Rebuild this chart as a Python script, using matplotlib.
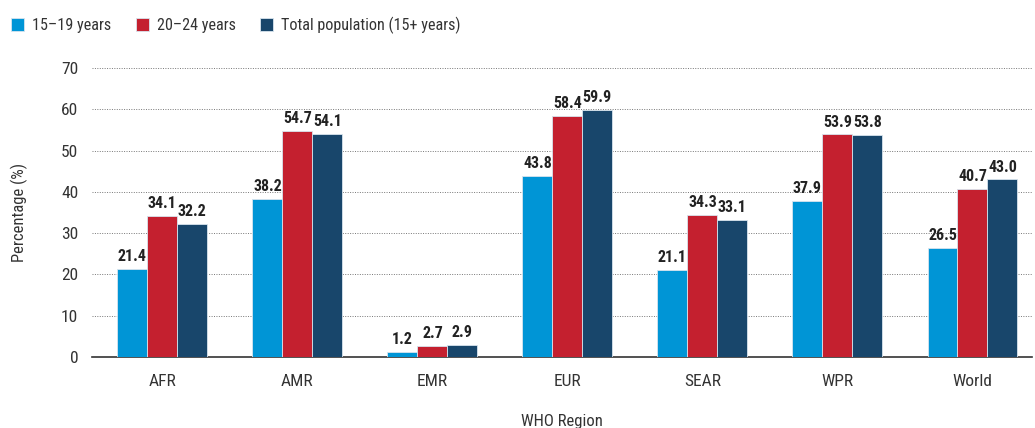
import numpy as np
import matplotlib
matplotlib.use('Agg')
import matplotlib.pyplot as plt

plt.rcParams['font.family'] = ['Roboto Condensed', 'Barlow Condensed', 'DejaVu Sans']
plt.rcParams['font.stretch'] = 'condensed'

# Data
regions = ['AFR', 'AMR', 'EMR', 'EUR', 'SEAR', 'WPR', 'World']
age_15_19 = [21.4, 38.2, 1.2, 43.8, 21.1, 37.9, 26.5]
age_20_24 = [34.1, 54.7, 2.7, 58.4, 34.3, 53.9, 40.7]
total_15plus = [32.2, 54.1, 2.9, 59.9, 33.1, 53.8, 43.0]

series = [
    ('15\u201319 years', age_15_19, '#0095D6'),
    ('20\u201324 years', age_20_24, '#C4202F'),
    ('Total population (15+ years)', total_15plus, '#18466B'),
]

fig = plt.figure(figsize=(10.35, 4.28), dpi=100)
ax = fig.add_axes([0.089, 0.166, 0.908, 0.675])

x = np.arange(len(regions))
width = 0.222
for i, (label, vals, color) in enumerate(series):
    pos = x + (i - 1) * width
    ax.bar(pos, vals, width, color=color, label=label,
           edgecolor='#d8e4ee', linewidth=0.6, zorder=3)
    for xp, v in zip(pos, vals):
        ax.text(xp, v + 1.2, f'{v:.1f}', ha='center', va='bottom',
                fontsize=11.5, fontweight='bold', color='#222222', zorder=4)

ax.set_ylim(0, 70)
ax.set_xlim(-0.52, 6.44)
ax.set_yticks(range(0, 71, 10))
ax.set_xticks(x)
ax.set_xticklabels(regions)
ax.tick_params(axis='both', length=0, labelsize=12.5, colors='#333333')
ax.tick_params(axis='x', pad=12)
ax.tick_params(axis='y', pad=10)
ax.grid(axis='y', linestyle=(0, (1, 1.5)), color='#777777', linewidth=0.7, zorder=0)

for side in ['top', 'right', 'left']:
    ax.spines[side].set_visible(False)
ax.spines['bottom'].set_color('#333333')
ax.spines['bottom'].set_linewidth(1.2)

ax.set_ylabel('Percentage (%)', fontsize=12, color='#333333', labelpad=24)
ax.set_xlabel('WHO Region', fontsize=12, color='#333333', labelpad=18)

fig.legend(loc='upper left', bbox_to_anchor=(-0.003, 0.995), ncol=3, frameon=False,
           fontsize=11.6, handlelength=0.8, handleheight=0.8, handletextpad=0.5,
           columnspacing=1.5, labelcolor='#333333')

fig.savefig('out.png', dpi=100)
